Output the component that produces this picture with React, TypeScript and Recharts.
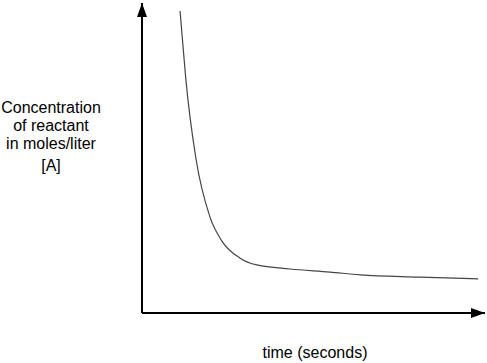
import {Line, LineChart, XAxis, YAxis} from "recharts";

// time in seconds (0-100 across the axis), concentration (0-100 up the axis)
const times = [11.1, 11.9, 12.8, 15.7, 19.8, 23.3, 28.6, 33.5, 43.1, 54.8, 63.6, 81.0, 98.0];
const concentrations = [97.4, 86.8, 75.2, 50.0, 31.0, 23.2, 17.7, 15.5, 14.2, 13.2, 12.3, 11.6, 11.0];

const yLabelLines = ["Concentration", "of reactant", "in moles/liter", "[A]"];
const xLabel = "time (seconds)";

const data = times.map((t, i) => ({time: t, conc: concentrations[i]}));

const font = "'Liberation Sans', Arial, Helvetica, sans-serif";

const App = () => {
    const lineTops = [113, 131, 149, 171];

    return (
        <div style={{position: "absolute", left: 0, top: 0}}>
            <LineChart
                width={487}
                height={363}
                data={data}
                margin={{top: 3, right: 2, left: 132, bottom: 40}}
            >
                <defs>
                    <marker
                        id="arrow"
                        markerUnits="userSpaceOnUse"
                        markerWidth={14}
                        markerHeight={10}
                        refX={14}
                        refY={5}
                        orient="auto-start-reverse"
                    >
                        <path d="M0,0 L14,5 L0,10 z" fill="#000"/>
                    </marker>
                </defs>
                <XAxis
                    dataKey="time"
                    type="number"
                    domain={[0, 100]}
                    height={10}
                    tick={false}
                    tickLine={false}
                    axisLine={{stroke: "#000", strokeWidth: 2, markerEnd: "url(#arrow)"}}
                />
                <YAxis
                    type="number"
                    domain={[0, 100]}
                    width={10}
                    tick={false}
                    tickLine={false}
                    axisLine={{stroke: "#000", strokeWidth: 2, markerStart: "url(#arrow)"}}
                />
                <Line
                    dataKey="conc"
                    type="monotone"
                    stroke="#444"
                    strokeWidth={1.2}
                    dot={false}
                    isAnimationActive={false}
                />
                {yLabelLines.map((s, i) => (
                    <text key={s} x={51} y={lineTops[i]} textAnchor="middle"
                          fontFamily={font} fontSize={16} fill="#000">{s}</text>
                ))}
                <text x={315} y={358} textAnchor="middle" fontFamily={font} fontSize={16} fill="#000">
                    {xLabel}
                </text>
            </LineChart>
        </div>
    )
}

export default App
